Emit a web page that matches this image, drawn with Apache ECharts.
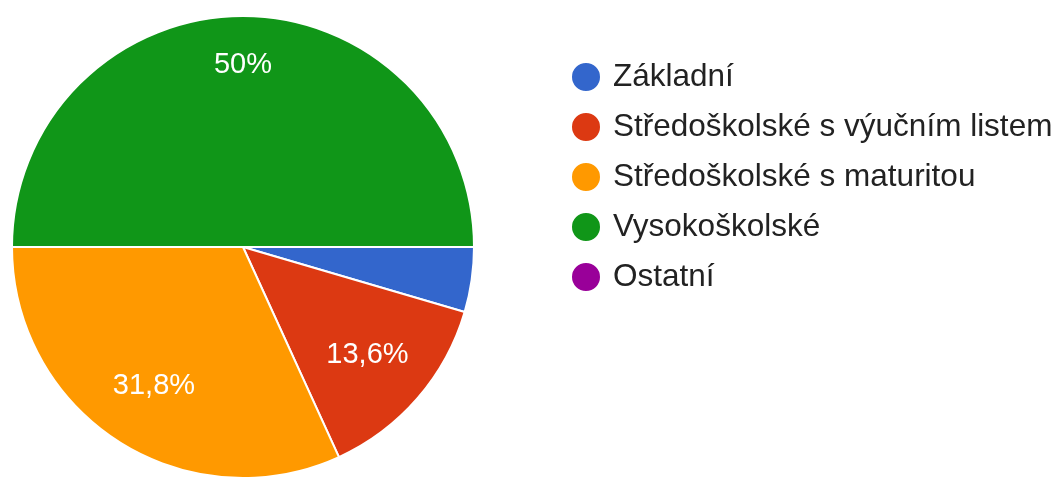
<!DOCTYPE html>
<html>
<head>
<meta charset="utf-8">
<title>Nejvyšší dosažené vzdělání</title>
<script src="https://cdn.jsdelivr.net/npm/echarts@6/dist/echarts.min.js"></script>
<style>
  html, body { margin: 0; padding: 0; background: #ffffff; }
  #chart { width: 1056px; height: 479px; }
</style>
</head>
<body>
<div id="chart"></div>
<script>
// Education categories and number of respondents in each
const categories = ['Základní', 'Středoškolské s výučním listem', 'Středoškolské s maturitou', 'Vysokoškolské', 'Ostatní'];
const counts = [1, 3, 7, 11, 0];
const colors = ['#3366cc', '#dc3912', '#ff9900', '#109618', '#990099'];

const total = counts.reduce((a, b) => a + b, 0);

// Percentage text in Czech notation: one decimal, comma separator, no trailing ",0"
function pctText(v) {
  const p = Math.round(v / total * 1000) / 10;
  return String(p).replace('.', ',') + '%';
}

const pieData = categories.map((name, i) => ({
  name: name,
  value: counts[i],
  itemStyle: { color: colors[i] }
}));

// Transparent twin pie that only carries the slice labels further out than the default inside position
const labelData = categories.map((name, i) => ({
  name: name,
  value: counts[i],
  label: {
    show: counts[i] / total >= 0.05,
    offset: counts[i] / total >= 0.5 ? [0, -17] : [0, 0]
  }
}));

const CX = 243, CY = 247, R = 231;

const chart = echarts.init(document.getElementById('chart'), null, { renderer: 'canvas' });
chart.setOption({
  backgroundColor: '#ffffff',
  animation: false,
  legend: {
    orient: 'vertical',
    left: 570,
    top: 61,
    padding: 0,
    icon: 'circle',
    itemWidth: 30,
    itemHeight: 30,
    itemGap: 18,
    selectedMode: false,
    data: categories,
    textStyle: {
      fontFamily: '"Liberation Sans", Arial, sans-serif',
      fontSize: 31.5,
      lineHeight: 30,
      color: '#222222',
      padding: [0, 0, 0, 7]
    }
  },
  series: [
    {
      type: 'pie',
      center: [CX, CY],
      radius: [0, R],
      startAngle: 0,
      clockwise: true,
      avoidLabelOverlap: false,
      silent: true,
      itemStyle: { borderColor: '#ffffff', borderWidth: 2 },
      label: { show: false },
      labelLine: { show: false },
      data: pieData
    },
    {
      type: 'pie',
      center: [CX, CY],
      radius: [0, R * 1.4],
      startAngle: 0,
      clockwise: true,
      avoidLabelOverlap: false,
      silent: true,
      z: 5,
      itemStyle: { color: 'rgba(0,0,0,0)', borderWidth: 0 },
      label: {
        position: 'inside',
        color: '#ffffff',
        fontFamily: '"Liberation Sans", Arial, sans-serif',
        fontSize: 29,
        formatter: p => pctText(p.value)
      },
      labelLine: { show: false },
      data: labelData
    }
  ]
});
</script>
</body>
</html>
